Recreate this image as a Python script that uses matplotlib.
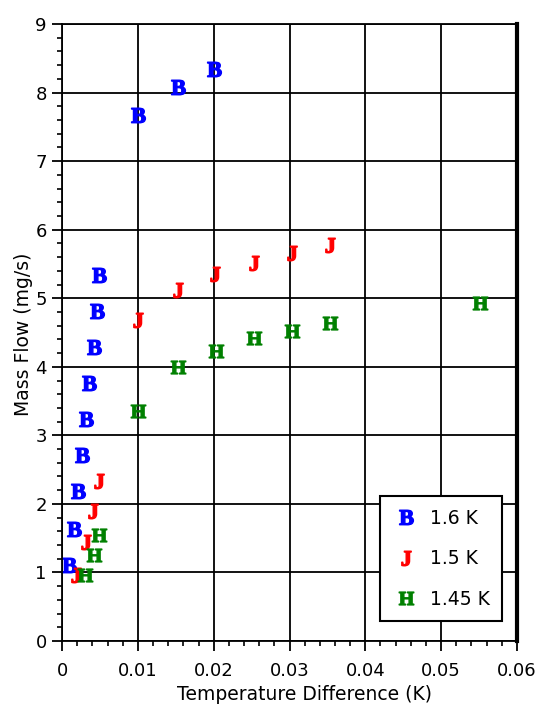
import matplotlib
matplotlib.use("Agg")
import matplotlib.pyplot as plt
from matplotlib.ticker import MultipleLocator, AutoMinorLocator, FormatStrFormatter

plt.rcParams['font.family'] = ['DejaVu Sans']
plt.rcParams['mathtext.fontset'] = 'custom'
plt.rcParams['mathtext.bf'] = 'Liberation Serif:bold'

# 1.6 K series (B)
b_dt = [0.0009, 0.0016, 0.0021, 0.0026, 0.0032, 0.0036, 0.0042, 0.0046, 0.0049,
        0.010, 0.0153, 0.020]
b_flow = [1.11, 1.63, 2.19, 2.71, 3.24, 3.76, 4.29, 4.81, 5.34,
          7.67, 8.08, 8.34]

# 1.5 K series (J)
j_dt = [0.0018, 0.0032, 0.0041, 0.0049, 0.010, 0.0153, 0.0202, 0.0253, 0.0303, 0.0353]
j_flow = [0.96, 1.44, 1.90, 2.33, 4.68, 5.12, 5.35, 5.51, 5.66, 5.78]

# 1.45 K series (H)
h_dt = [0.0030, 0.0042, 0.0049, 0.010, 0.0153, 0.0203, 0.0253, 0.0303, 0.0353, 0.0551]
h_flow = [0.96, 1.25, 1.55, 3.35, 4.00, 4.23, 4.42, 4.52, 4.64, 4.93]

series = [
    (b_dt, b_flow, 'B', 'blue', '1.6 K'),
    (j_dt, j_flow, 'J', 'red', '1.5 K'),
    (h_dt, h_flow, 'H', 'green', '1.45 K'),
]

fig = plt.figure(figsize=(5.45, 7.09), dpi=100)
ax = fig.add_axes([0.1138, 0.0959, 0.9486 - 0.1138, 0.9661 - 0.0959])

for xs, ys, letter, col, lab in series:
    ax.plot(xs, ys, linestyle='none', marker=r'$\mathbf{%s}$' % letter,
            markersize=10.5, color=col, label=lab)

ax.set_xlim(0, 0.06)
ax.set_ylim(0, 9)
ax.xaxis.set_major_locator(MultipleLocator(0.01))
ax.yaxis.set_major_locator(MultipleLocator(1))
ax.xaxis.set_minor_locator(AutoMinorLocator(5))
ax.yaxis.set_minor_locator(AutoMinorLocator(5))
ax.xaxis.set_major_formatter(FormatStrFormatter('%g'))
ax.yaxis.set_major_formatter(FormatStrFormatter('%g'))

ax.grid(True, which='major', color='black', linewidth=1.3)
ax.set_axisbelow(True)
ax.tick_params(which='major', direction='out', length=7, width=1.3,
               labelsize=13, pad=4)
ax.tick_params(axis='x', which='major', pad=8)
ax.tick_params(which='minor', direction='out', length=3.5, width=1.2)
for side in ['left', 'bottom', 'top']:
    ax.spines[side].set_linewidth(1.3)
ax.spines['right'].set_linewidth(3)

ax.set_xlabel('Temperature Difference (K)', fontsize=13.5)
ax.set_ylabel('Mass Flow (mg/s)', fontsize=13.5)
ax.xaxis.set_label_coords(0.532, -0.072)
ax.yaxis.set_label_coords(-0.064, 0.497)

# legend box like the original: square frame, letter markers
leg = ax.legend(loc='lower right', bbox_to_anchor=(0.967, 0.032), fontsize=13.5,
                frameon=True, fancybox=False, framealpha=1, edgecolor='black',
                borderpad=0.66, labelspacing=1.15, handlelength=1.5,
                handletextpad=0.5, borderaxespad=0)
leg.get_frame().set_linewidth(1.5)

fig.savefig('out.png', dpi=100)
